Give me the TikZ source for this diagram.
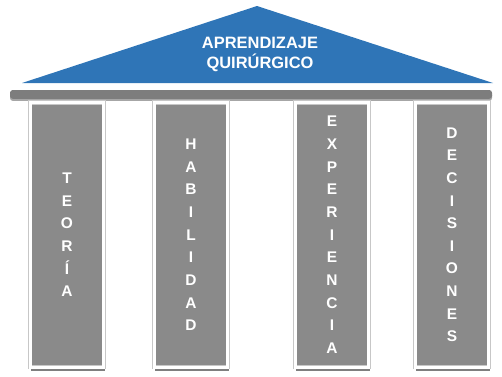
\documentclass[tikz,border=0pt]{standalone}
\usepackage{fontspec}
\setmainfont{Liberation Sans}
\usepackage{tikz}
\usepackage{tkz-euclide}
\usetikzlibrary{calc}
\usetikzlibrary{shadows}

\definecolor{roofblue}{RGB}{47,117,183}
\definecolor{pillargray}{RGB}{138,138,138}
\definecolor{beamgray}{RGB}{125,125,125}

\tikzset{
  pillar/.style={rectangle, fill=pillargray, draw=black!22, line width=0.4pt,
    double=white, double distance=2.4pt,
    minimum width=1.84cm, minimum height=6.62cm, inner sep=0pt,
    drop shadow={shadow xshift=0.8pt, shadow yshift=-2.8pt, opacity=0.5, fill=black},
    text=white, align=center,
    font=\fontsize{11}{16.1}\selectfont\bfseries},
  roofname/.style={text=white, align=center,
    font=\fontsize{11.7}{14.5}\selectfont\bfseries},
}

\begin{document}
\begin{tikzpicture}[%
  scale=1.0,
]

  \useasboundingbox (0,0) rectangle (12.55,9.4);

  \tkzDefPoint(0.55, 7.325){r0}
  \tkzDefPoint(12.325, 7.325){r1}
  \tkzDefPoint(6.425, 9.25){r2}

  \tkzFillPolygon[color=roofblue](r0,r1,r2)

  % beam under the roof
  \fill[beamgray, rounded corners=2pt,
    drop shadow={shadow xshift=0pt, shadow yshift=-1.5pt, opacity=0.35, fill=black}]
    (0.25, 6.93) rectangle (12.3, 7.15);

  \node[roofname] (title) at (6.5, 8.04) {APRENDIZAJE\\QUIRÚRGICO};

  \node[pillar] (teoria) at (1.675, 3.53) {T\\E\\O\\R\\Í\\A};
  \node[pillar] (habilidad) at (4.775, 3.53) {H\\A\\B\\I\\L\\I\\D\\A\\D};
  \node[pillar] (experiencia) at (8.3, 3.53) {E\\X\\P\\E\\R\\I\\E\\N\\C\\I\\A};
  \node[pillar] (decisiones) at (11.3, 3.53) {D\\E\\C\\I\\S\\I\\O\\N\\E\\S};

\end{tikzpicture}
\end{document}
